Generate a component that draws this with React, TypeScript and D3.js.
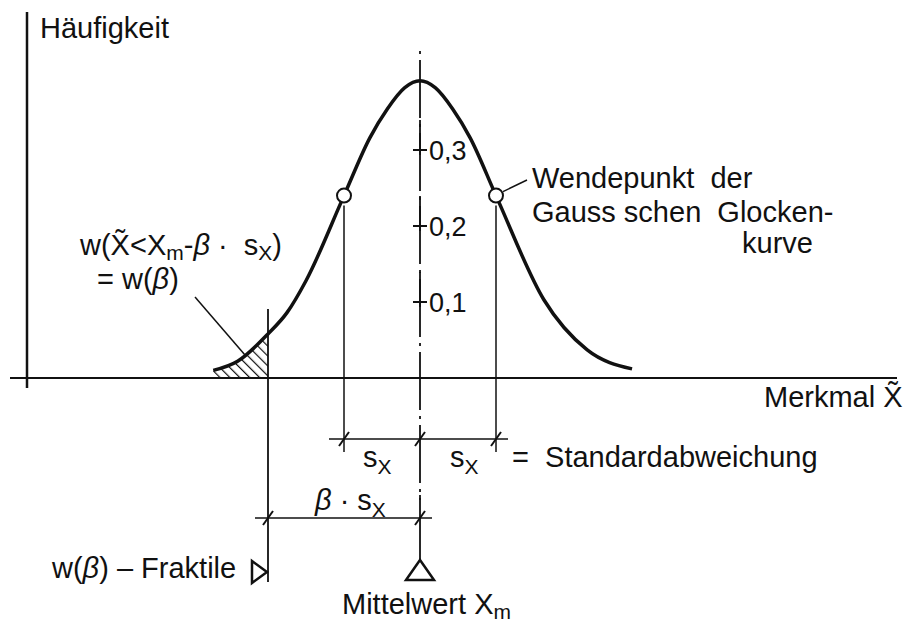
import React from 'react';
import * as d3 from 'd3';

// feature value in multiples of s_x, and the frequency
const zValues = [-2.72, -2.4, -2.0, -1.75, -1.5, -1.0, -0.66, -0.43, -0.2, 0, 0.2, 0.43, 0.66, 1.0, 1.63, 2.2, 2.79];
const density = [0.010, 0.022, 0.058, 0.086, 0.128, 0.240, 0.316, 0.354, 0.382, 0.391, 0.382, 0.354, 0.316, 0.240, 0.103, 0.037, 0.012];

const inflectionZ = [-1, 1];
const inflectionDensity = 0.240;
const beta = 2;
const fractileDensity = 0.058;
const yTicks = [0.1, 0.2, 0.3];
const yTickLabels = ['0,1', '0,2', '0,3'];

const W = 908;
const H = 626;
const FONT = '"Liberation Sans", Arial, sans-serif';

const x = d3.scaleLinear().domain([-1, 1]).range([344, 496]);
const y = d3.scaleLinear().domain([0, 0.1]).range([378, 302]);

const points: [number, number][] = zValues.map((z, i) => [z, density[i]]);

const curve = d3.line<[number, number]>()
  .x(d => x(d[0]))
  .y(d => y(d[1]))
  .curve(d3.curveMonotoneX);

const area = d3.area<[number, number]>()
  .x(d => x(d[0]))
  .y0(y(0))
  .y1(d => y(d[1]))
  .curve(d3.curveMonotoneX);

function Slash({ cx, cy }: { cx: number; cy: number }) {
  return <line x1={cx - 5} y1={cy + 7} x2={cx + 5} y2={cy - 7} stroke="#111" strokeWidth={2} />;
}

export default function App() {
  const x0 = x(0);
  const xBeta = x(-beta);
  const yInfl = y(inflectionDensity);
  const sxDimY = 439;
  const betaDimY = 518;
  const txt = { fontFamily: FONT, fontSize: 29, fill: '#111', style: { whiteSpace: 'pre' as const } };

  return (
    <div style={{ position: 'fixed', left: 0, top: 0 }}>
      <svg width={W} height={H} viewBox={`0 0 ${W} ${H}`} style={{ display: 'block', background: '#fff' }}>
        <defs>
          <pattern id="hatch" width={7} height={7} patternUnits="userSpaceOnUse" patternTransform="rotate(-45)">
            <line x1={0} y1={0} x2={0} y2={7} stroke="#111" strokeWidth={2.4} />
          </pattern>
          <clipPath id="tail">
            <rect x={0} y={0} width={xBeta} height={y(0)} />
          </clipPath>
        </defs>

        {/* axes */}
        <line x1={27} y1={12} x2={27} y2={388} stroke="#111" strokeWidth={2.5} />
        <line x1={10} y1={y(0)} x2={897} y2={y(0)} stroke="#111" strokeWidth={2} />

        {/* shaded tail */}
        <path d={area(points) || ''} fill="url(#hatch)" clipPath="url(#tail)" />

        {/* mean line */}
        <line x1={x0} y1={50} x2={x0} y2={500} stroke="#111" strokeWidth={1.8} strokeDasharray="58 6 3 6" strokeDashoffset={-10} />
        <line x1={x0} y1={495} x2={x0} y2={560} stroke="#111" strokeWidth={1.8} />
        {yTicks.map((t, i) => (
          <g key={t}>
            <line x1={x0 - 7} y1={y(t)} x2={x0 + 7} y2={y(t)} stroke="#111" strokeWidth={2} />
            <line x1={x0} y1={y(t) - 30} x2={x0} y2={y(t) + 5} stroke="#111" strokeWidth={1.8} />
            <text x={x0 + 9} y={y(t)} dy="0.36em" fontFamily={FONT} fontSize={27} fill="#111">{yTickLabels[i]}</text>
          </g>
        ))}

        {/* extension lines */}
        {inflectionZ.map(z => (
          <line key={z} x1={x(z)} y1={yInfl + 10} x2={x(z)} y2={452} stroke="#111" strokeWidth={1.5} />
        ))}
        <line x1={xBeta} y1={y(fractileDensity) - 25} x2={xBeta} y2={582} stroke="#111" strokeWidth={1.8} />

        {/* bell curve */}
        <path d={curve(points) || ''} fill="none" stroke="#111" strokeWidth={3.5} />
        {inflectionZ.map(z => (
          <circle key={z} cx={x(z)} cy={yInfl} r={7} fill="#fff" stroke="#111" strokeWidth={2} />
        ))}

        {/* dimension: s_x */}
        <line x1={x(-1) - 15} y1={sxDimY} x2={x(1) + 12} y2={sxDimY} stroke="#111" strokeWidth={1.5} />
        {[-1, 0, 1].map(z => <Slash key={z} cx={x(z)} cy={sxDimY} />)}
        {/* dimension: beta * s_x */}
        <line x1={xBeta - 13} y1={betaDimY} x2={x0 + 12} y2={betaDimY} stroke="#111" strokeWidth={1.5} />
        {[-beta, 0].map(z => <Slash key={z} cx={x(z)} cy={betaDimY} />)}

        {/* markers */}
        <path d={`M${x0},560 L${x0 - 14},580 L${x0 + 14},580 Z`} fill="#fff" stroke="#111" strokeWidth={2.5} />
        <path d={`M${xBeta - 16},561 L${xBeta - 16},583 L${xBeta - 1},572 Z`} fill="#fff" stroke="#111" strokeWidth={2.5} />

        {/* leaders */}
        <line x1={x(1) + 7} y1={yInfl - 4} x2={527} y2={180} stroke="#111" strokeWidth={1.5} />
        <line x1={195} y1={297} x2={245} y2={355} stroke="#111" strokeWidth={1.5} />

        {/* labels */}
        <text x={40} y={38} {...txt}>Häufigkeit</text>
        <text x={532} y={188} {...txt}>Wendepunkt  der</text>
        <text x={532} y={222} {...txt}>Gauss schen  Glocken-</text>
        <text x={742} y={253} {...txt}>kurve</text>

        <text x={80} y={255} {...txt}>
          w(X̃{'<'}X<tspan fontSize={21} dy={5}>m</tspan><tspan dy={-5}>-</tspan><tspan fontStyle="italic">β</tspan>{' ·  s'}<tspan fontSize={21} dy={5}>X</tspan><tspan dy={-5}>)</tspan>
        </text>
        <text x={97} y={289} {...txt}>= w(<tspan fontStyle="italic">β</tspan>)</text>

        <text x={764} y={407} {...txt}>Merkmal X̃</text>

        <text x={363} y={467} {...txt}>s<tspan fontSize={21} dy={7}>X</tspan></text>
        <text x={450} y={467} {...txt}>s<tspan fontSize={21} dy={7}>X</tspan></text>
        <text x={512} y={467} {...txt}>=  Standardabweichung</text>

        <text x={315} y={510} {...txt}><tspan fontStyle="italic">β</tspan>{' · s'}<tspan fontSize={21} dy={7}>X</tspan></text>

        <text x={52} y={578} {...txt}>w(<tspan fontStyle="italic">β</tspan>) – Fraktile</text>
        <text x={342} y={614} {...txt}>Mittelwert X<tspan fontSize={21} dy={5}>m</tspan></text>
      </svg>
    </div>
  );
}
